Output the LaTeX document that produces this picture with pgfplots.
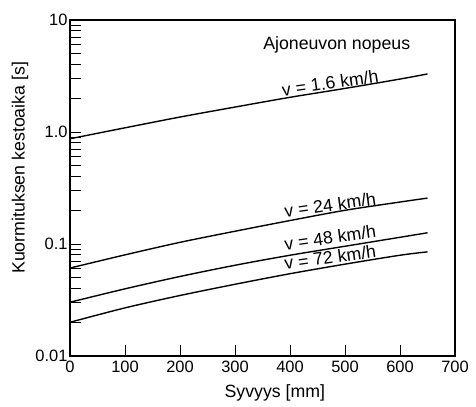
\documentclass[border=0pt]{standalone}
\usepackage{pgfplots}
\pgfplotsset{compat=1.18}
\usepackage{fontspec}
\setmainfont{Liberation Sans}

\begin{document}
\begin{tikzpicture}
\begin{axis}[
    ymode=log,
    scale only axis,
    width=385bp, height=336bp,
    xmin=0, xmax=700,
    ymin=0.01, ymax=10,
    xtick={0,100,...,700},
    ytick={0.01,0.1,1,10},
    yticklabels={0.01,0.1,1.0,10},
    tick align=inside,
    xtick pos=left, ytick pos=left,
    major tick length=11bp,
    minor tick length=11bp,
    axis line style={line width=1.1pt},
    every tick/.style={black, line width=0.8pt},
    tick label style={font=\fontsize{16.5}{18}\selectfont},
    xticklabel style={yshift=-1bp},
    yticklabel style={xshift=1bp},
    label style={font=\fontsize{17.8}{19}\selectfont},
    xlabel={Syvyys [mm]},
    ylabel={Kuormituksen kestoaika [s]},
    xlabel style={at={(axis description cs:0.532,-0.11)}, anchor=center},
    ylabel style={at={(axis description cs:-0.13,0.56)}, anchor=center},
    /pgf/number format/assume math mode=true,
    clip=false,
]
\addplot[black, line width=1.4pt, smooth] coordinates {
    (0,0.87) (100,1.09) (200,1.36) (300,1.67) (400,2.04) (500,2.45) (600,2.97) (650,3.3)
};
\addplot[black, line width=1.4pt, smooth] coordinates {
    (0,0.061) (100,0.080) (200,0.1035) (300,0.130) (400,0.162) (500,0.200) (600,0.237) (650,0.257)
};
\addplot[black, line width=1.4pt, smooth] coordinates {
    (0,0.0302) (100,0.0398) (200,0.0513) (300,0.0646) (400,0.0794) (500,0.0955) (600,0.1148) (650,0.126)
};
\addplot[black, line width=1.4pt, smooth] coordinates {
    (0,0.0200) (100,0.0269) (200,0.0347) (300,0.0437) (400,0.0543) (500,0.0661) (600,0.0794) (650,0.0851)
};
\node[font=\fontsize{17.8}{19}\selectfont] at (axis cs:485,6.0) {Ajoneuvon nopeus};
\node[font=\fontsize{17.8}{19}\selectfont, rotate=8, inner sep=0pt] at (axis cs:473,2.74) {v = 1.6 km/h};
\node[font=\fontsize{17.8}{19}\selectfont, rotate=8, inner sep=0pt] at (axis cs:473,0.223) {v = 24 km/h};
\node[font=\fontsize{17.8}{19}\selectfont, rotate=8, inner sep=0pt] at (axis cs:473,0.114) {v = 48 km/h};
\node[font=\fontsize{17.8}{19}\selectfont, rotate=8, inner sep=0pt] at (axis cs:473,0.0762) {v = 72 km/h};
\end{axis}
\useasboundingbox ([xshift=-70bp,yshift=-50bp]current axis.south west) rectangle ([xshift=21bp,yshift=20bp]current axis.north east);
\end{tikzpicture}
\end{document}
